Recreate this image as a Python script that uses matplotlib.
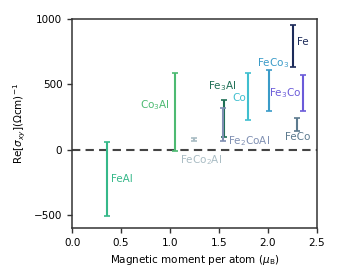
import matplotlib
matplotlib.use("Agg")
import matplotlib.pyplot as plt

# compounds, magnetic moment per atom and range of Re[sigma_xy]
names = ["FeAl", "Co$_3$Al", "FeCo$_2$Al", "Fe$_3$Al", "Fe$_2$CoAl", "Co",
         "FeCo$_3$", "Fe", "Fe$_3$Co", "FeCo"]
moment = [0.357, 1.052, 1.25, 1.55, 1.545, 1.80, 2.015, 2.258, 2.357, 2.30]
sig_lo = [-512, -10, 68, 100, 65, 228, 297, 635, 297, 144]
sig_hi = [60, 584, 92, 380, 320, 588, 607, 954, 569, 239]
colors = ["#35b889", "#4dba72", "#a9bcc4", "#1e6f55", "#7f8fb2", "#40bfcf",
          "#3a9bc8", "#1c2b5a", "#6b5bd9", "#5c7a8e"]

# label placement: (x, y, ha)
lab_pos = [(0.40, -226, "left"),
           (1.00, 341, "right"),
           (1.10, -80, "left"),
           (1.53, 489, "center"),
           (1.59, 65, "left"),
           (1.775, 394, "right"),
           (2.05, 665, "center"),
           (2.30, 826, "left"),
           (2.34, 435, "right"),
           (2.30, 98, "center")]

plt.rcParams["font.size"] = 7.5
fig = plt.figure(figsize=(3.4, 2.8), dpi=100)
ax = fig.add_axes([0.212, 0.186, 0.72, 0.746])

ax.axhline(0, color="#444444", ls="--", lw=1.5, dashes=(4, 2.5), zorder=1)

for i in range(len(names)):
    mid = (sig_lo[i] + sig_hi[i]) / 2
    half = (sig_hi[i] - sig_lo[i]) / 2
    ax.errorbar(moment[i], mid, yerr=half, fmt="none", ecolor=colors[i],
                elinewidth=1.5, capsize=2.5, capthick=1.2, zorder=2)
    x, y, ha = lab_pos[i]
    ax.text(x, y, names[i], color=colors[i], ha=ha, va="center", fontsize=7.5)

ax.set_xlim(0, 2.5)
ax.set_ylim(-600, 1000)
ax.set_xticks([0.0, 0.5, 1.0, 1.5, 2.0, 2.5])
ax.set_yticks([-500, 0, 500, 1000])
ax.set_xlabel(r"Magnetic moment per atom ($\mu_{\rm B}$)")
ax.set_ylabel(r"Re$[\sigma_{xy}](\Omega{\rm cm})^{-1}$")
for s in ax.spines.values():
    s.set_color("#333333")
    s.set_linewidth(1.1)
ax.tick_params(color="#333333", width=1, length=3.5)

fig.savefig("out.png", dpi=100)
